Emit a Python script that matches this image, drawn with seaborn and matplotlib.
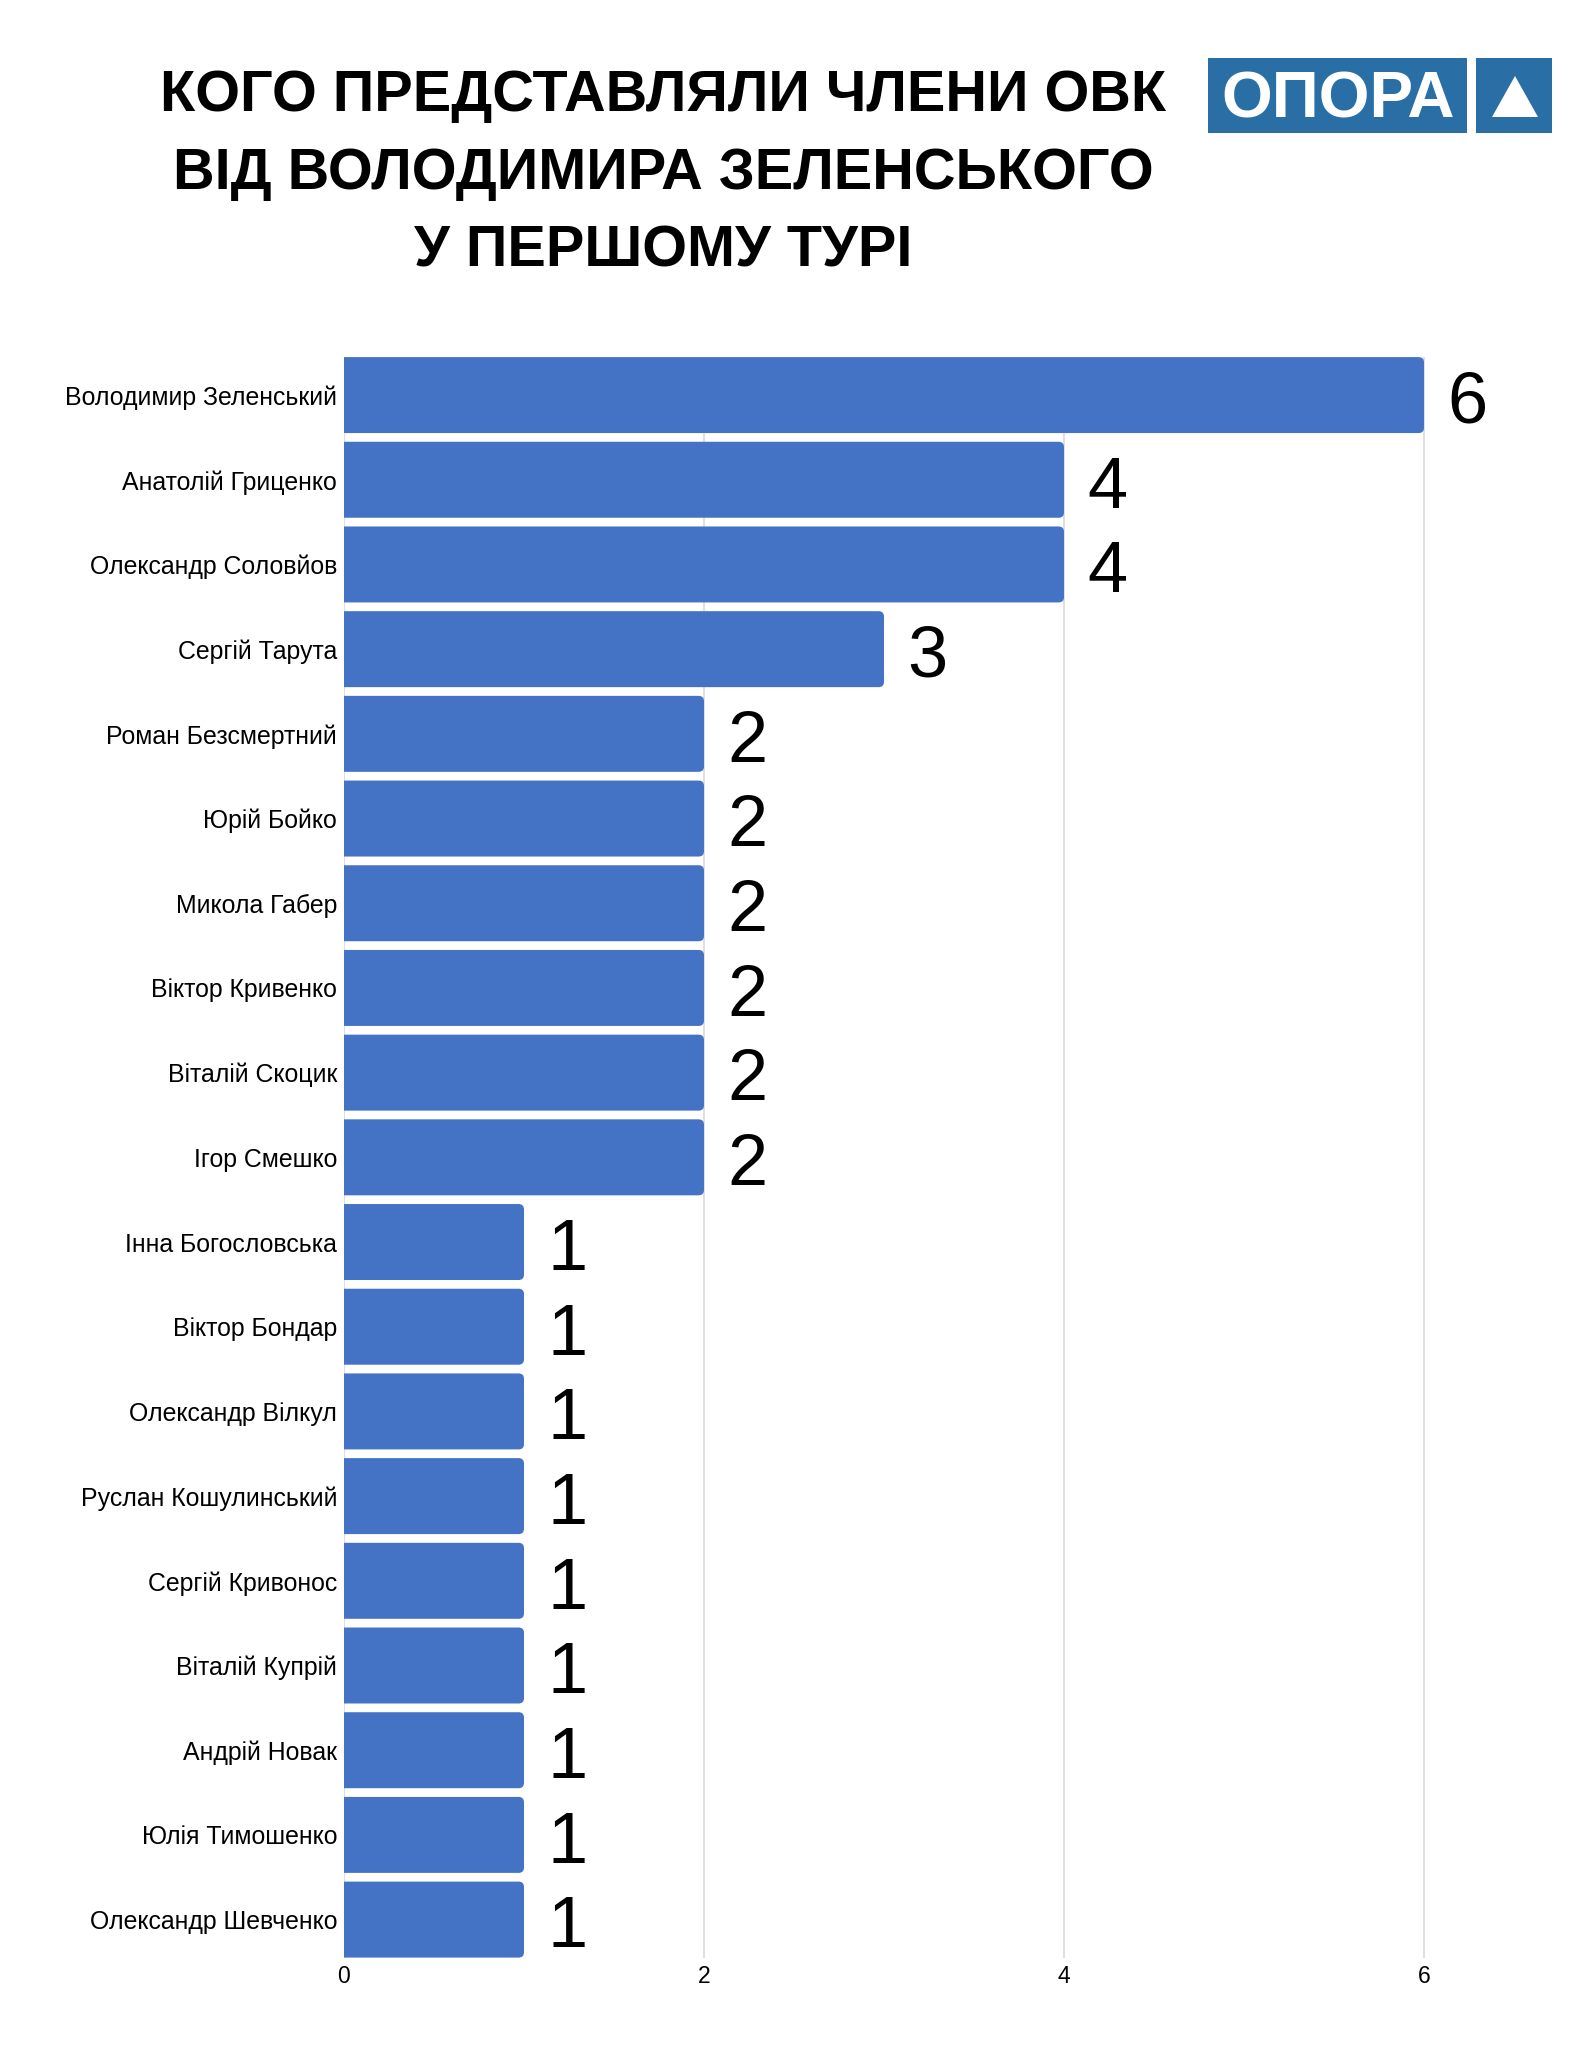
import matplotlib
matplotlib.use("Agg")
import matplotlib.pyplot as plt
import seaborn as sns
import pandas as pd
from matplotlib.patches import FancyBboxPatch, Rectangle, Polygon

# data
candidates = [
    "Володимир Зеленський", "Анатолій Гриценко", "Олександр Соловйов",
    "Сергій Тарута", "Роман Безсмертний", "Юрій Бойко", "Микола Габер",
    "Віктор Кривенко", "Віталій Скоцик", "Ігор Смешко", "Інна Богословська",
    "Віктор Бондар", "Олександр Вілкул", "Руслан Кошулинський",
    "Сергій Кривонос", "Віталій Купрій", "Андрій Новак", "Юлія Тимошенко",
    "Олександр Шевченко",
]
members = [6, 4, 4, 3, 2, 2, 2, 2, 2, 2, 1, 1, 1, 1, 1, 1, 1, 1, 1]
x_ticks = [0, 2, 4, 6]

title_lines = ["КОГО ПРЕДСТАВЛЯЛИ ЧЛЕНИ ОВК", "ВІД ВОЛОДИМИРА ЗЕЛЕНСЬКОГО", "У ПЕРШОМУ ТУРІ"]

BAR_COLOR = "#4472C4"
LOGO_COLOR = "#2A6EA6"

sns.set_theme(style="white")
plt.rcParams["font.family"] = ["Liberation Sans", "DejaVu Sans"]
plt.rcParams["text.color"] = "black"
plt.rcParams["xtick.color"] = "black"
plt.rcParams["ytick.color"] = "black"

df = pd.DataFrame({"name": candidates, "count": members})

W, H = 1588, 2057
fig = plt.figure(figsize=(W / 100, H / 100), dpi=100)
ax = fig.add_axes([344 / W, 0.04827, 6.4 * 180 / W, 0.7782])

sns.barplot(data=df, x="count", y="name", color=BAR_COLOR, width=0.897,
            saturation=1, ax=ax, zorder=2)

# swap plain bars for ones with rounded right corners
for p in list(ax.patches):
    x0, y0, w, h = p.get_x(), p.get_y(), p.get_width(), p.get_height()
    p.remove()
    ax.add_patch(FancyBboxPatch((x0 - 0.05, y0), w + 0.05, h,
                                boxstyle="round,pad=0,rounding_size=0.03",
                                mutation_aspect=180 / 84.7,
                                fc=BAR_COLOR, ec="none", zorder=2))

for i, v in enumerate(members):
    ax.text(v + 0.13, i + 0.11, str(v), va="center", ha="left",
            fontsize=52, color="black", clip_on=False)

ax.set_xlim(0, 6.4)
ax.set_ylim(18.45, -0.45)
ax.set_xticks(x_ticks)
ax.set_xticklabels([str(t) for t in x_ticks], fontsize=16.5)
ax.tick_params(axis="y", labelsize=17.9, pad=5, length=0)
ax.tick_params(axis="x", pad=5, length=0)
ax.set_xlabel("")
ax.set_ylabel("")
ax.grid(axis="x", color="#d9d9d9", linewidth=1.2, zorder=0)
ax.set_axisbelow(True)
for s in ax.spines.values():
    s.set_visible(False)

# title
for k, line in enumerate(title_lines):
    fig.text(663 / W, 1 - (96 + 78 * k) / H, line, ha="center", va="center",
             fontsize=41.5, fontweight="bold", color="black")

# logo
fig.patches.append(Rectangle((1208 / W, 1 - 133 / H), 259 / W, 75 / H,
                             transform=fig.transFigure, fc=LOGO_COLOR, ec="none"))
fig.patches.append(Rectangle((1476 / W, 1 - 133 / H), 76 / W, 75 / H,
                             transform=fig.transFigure, fc=LOGO_COLOR, ec="none"))
fig.patches.append(Polygon([(1492 / W, 1 - 117 / H), (1538 / W, 1 - 117 / H),
                            (1515 / W, 1 - 76 / H)], closed=True,
                           transform=fig.transFigure, fc="white", ec="none"))
fig.text(1338 / W, 1 - 100 / H, "ОПОРА", ha="center", va="center",
         fontsize=47, fontweight="bold", color="white")

fig.savefig("out.png", dpi=100, facecolor="white")
